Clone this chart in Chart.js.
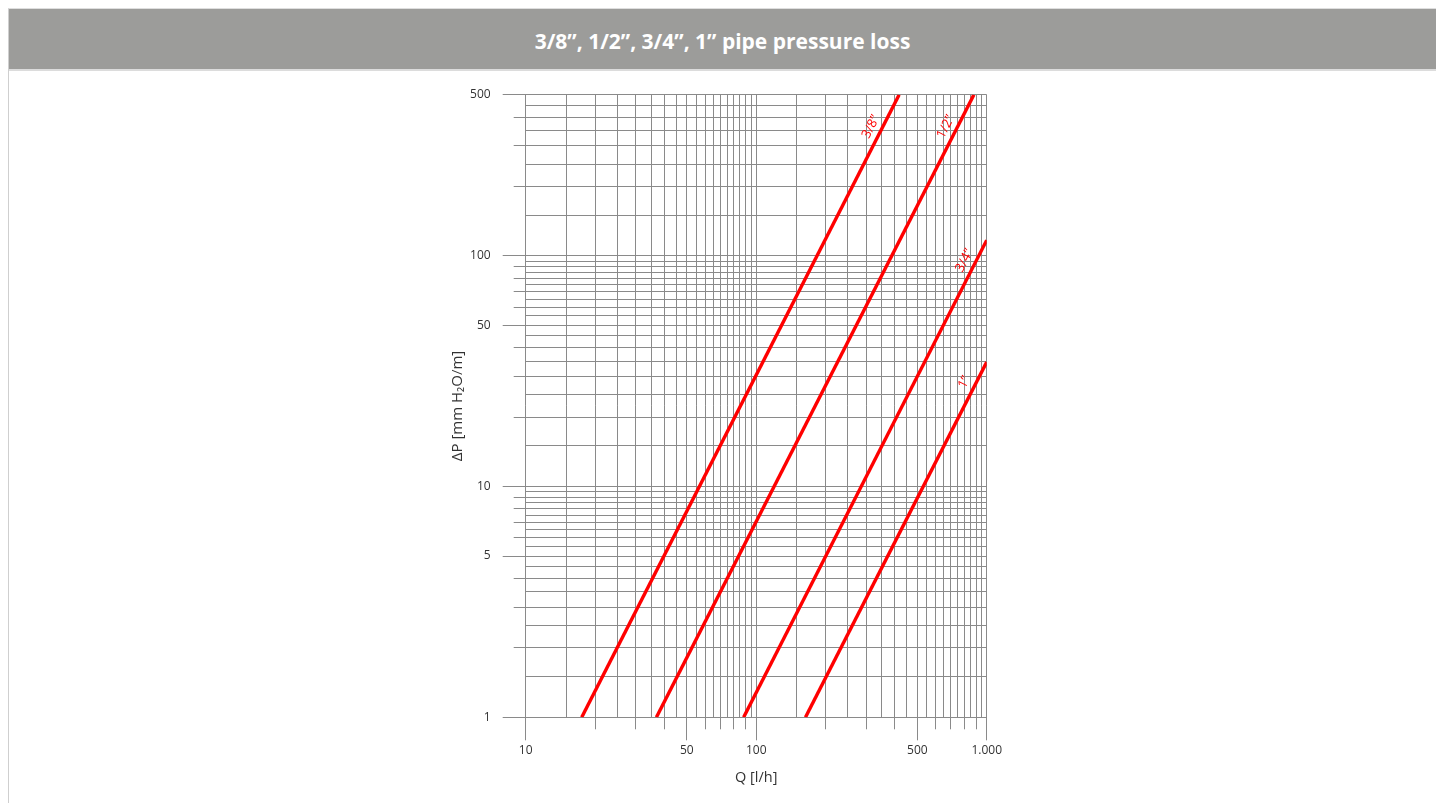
<!DOCTYPE html>
<html><head><meta charset="utf-8">
<script src="https://cdn.jsdelivr.net/npm/chart.js@4.4.0/dist/chart.umd.min.js"></script>
<style>
html,body{margin:0;padding:0;background:#fff;width:1436px;height:803px;overflow:hidden;font-family:'Open Sans',sans-serif;}
#frame{position:absolute;left:8px;top:8px;width:1428px;height:795px;border-left:1px solid #cfcfcf;border-top:1px solid #dedede;box-sizing:border-box;}
#bar{position:absolute;left:0;top:0;right:0;height:60px;background:#9c9c9a;border-bottom:2px solid #dcdcdc;color:#fff;font-weight:700;font-size:21px;text-align:center;line-height:64px;}
#wrap{position:absolute;left:0;top:0;width:1436px;height:803px;}
</style></head>
<body>
<div id="frame"><div id="bar">3/8”, 1/2”, 3/4”, 1” pipe pressure loss</div></div>
<div id="wrap"><canvas id="c" width="1436" height="803"></canvas></div>
<script>
// ---- data (end points of each straight log-log line) ----
const seriesLabels = ['3/8”', '1/2”', '3/4”', '1”'];
const q_3_8 = [17.5, 417];   const dp_3_8 = [1, 500];
const q_1_2 = [36.9, 880];   const dp_1_2 = [1, 500];
const q_3_4 = [88.2, 1000];  const dp_3_4 = [1, 117];
const q_1   = [163.6, 1000]; const dp_1   = [1, 34.7];
const labelDP = [346, 346, 91, 27];   // ΔP where each curve name sits

// ---- axis ticks ----
const xLabelValues = [10, 50, 100, 500, 1000];
const xLabelTexts  = ['10', '50', '100', '500', '1.000'];
const yLabelValues = [1, 5, 10, 50, 100, 500];
const yLabelTexts  = ['1', '5', '10', '50', '100', '500'];
const gridSteps = [1, 1.5, 2, 2.5, 3, 3.5, 4, 4.5, 5, 5.5, 6, 6.5, 7, 7.5, 8, 8.5, 9, 9.5];
const minorTickSteps = [2, 3, 4, 6, 7, 8, 9];

const xGrid = [], yGrid = [], xMinor = [], yMinor = [];
[10, 100].forEach(d => gridSteps.forEach(s => xGrid.push(+(d * s).toFixed(3))));
xGrid.push(1000);
[1, 10, 100].forEach(d => gridSteps.forEach(s => { const v = +(d * s).toFixed(3); if (v <= 500) yGrid.push(v); }));
[10, 100].forEach(d => minorTickSteps.forEach(s => xMinor.push(d * s)));
[1, 10, 100].forEach(d => minorTickSteps.forEach(s => { if (d * s < 500) yMinor.push(d * s); }));

const GRID = '#8a8a8a';
const RED = '#ff0000';
const TXT = '#333333';
const FONT = "'Open Sans', sans-serif";

const seriesQ = [q_3_8, q_1_2, q_3_4, q_1];
const seriesDP = [dp_3_8, dp_1_2, dp_3_4, dp_1];
const datasets = seriesLabels.map((name, i) => ({
  label: name,
  data: seriesQ[i].map((q, k) => ({x: q, y: seriesDP[i][k]})),
  showLine: true,
  borderColor: RED,
  backgroundColor: RED,
  borderWidth: 3.4,
  pointRadius: 0,
  borderCapStyle: 'butt'
}));

const align = v => Math.round(v - 0.5) + 0.5;

const extras = {
  id: 'extras',
  afterDraw(chart) {
    const {ctx, chartArea: a, scales: {x, y}} = chart;
    ctx.save();
    ctx.strokeStyle = GRID;
    ctx.lineWidth = 1;
    ctx.beginPath();
    xMinor.forEach(v => { const px = align(x.getPixelForValue(v)); ctx.moveTo(px, a.bottom); ctx.lineTo(px, a.bottom + 12); });
    yMinor.forEach(v => { const py = align(y.getPixelForValue(v)); ctx.moveTo(a.left - 12, py); ctx.lineTo(a.left, py); });
    ctx.stroke();
    // curve names
    ctx.fillStyle = RED;
    ctx.font = "13px " + FONT;
    ctx.textAlign = 'center';
    ctx.textBaseline = 'middle';
    seriesLabels.forEach((name, i) => {
      const x0 = x.getPixelForValue(seriesQ[i][0]), y0 = y.getPixelForValue(seriesDP[i][0]);
      const x1 = x.getPixelForValue(seriesQ[i][1]), y1 = y.getPixelForValue(seriesDP[i][1]);
      const ang = Math.atan2(y1 - y0, x1 - x0);
      const py = y.getPixelForValue(labelDP[i]);
      const px = x0 + (py - y0) * (x1 - x0) / (y1 - y0);
      ctx.save();
      ctx.translate(px, py);
      ctx.rotate(ang);
      ctx.fillText(name, 0, -10.5);
      ctx.restore();
    });
    ctx.restore();
  }
};

new Chart(document.getElementById('c'), {
  type: 'scatter',
  data: {datasets},
  plugins: [extras],
  options: {
    responsive: false,
    maintainAspectRatio: false,
    devicePixelRatio: 1,
    animation: false,
    layout: {padding: {left: 448.7, right: 449.3, top: 94.7, bottom: 16.7}},
    plugins: {legend: {display: false}, tooltip: {enabled: false}},
    scales: {
      x: {
        type: 'logarithmic',
        min: 10, max: 1000,
        afterBuildTicks: s => { s.ticks = xGrid.map(v => ({value: v})); },
        afterFit: s => { s.height = 69; },
        border: {display: false},
        grid: {
          color: GRID, lineWidth: 1, drawTicks: true, tickLength: 23,
          tickColor: c => (c.tick && xLabelValues.includes(c.tick.value)) ? GRID : 'rgba(0,0,0,0)'
        },
        ticks: {
          autoSkip: false, maxRotation: 0, minRotation: 0, padding: 3,
          color: TXT, font: {family: FONT, size: 12},
          callback: v => { const k = xLabelValues.indexOf(v); return k >= 0 ? xLabelTexts[k] : ''; }
        },
        title: {display: true, text: 'Q [l/h]', color: TXT, font: {family: FONT, size: 14.5}, padding: 0}
      },
      y: {
        type: 'logarithmic',
        min: 1, max: 500,
        afterBuildTicks: s => { s.ticks = yGrid.map(v => ({value: v})); },
        afterFit: s => { s.width = 77; },
        border: {display: false},
        grid: {
          color: GRID, lineWidth: 1, drawTicks: true, tickLength: 23,
          tickColor: c => (c.tick && yLabelValues.includes(c.tick.value)) ? GRID : 'rgba(0,0,0,0)'
        },
        ticks: {
          autoSkip: false, padding: 12,
          color: TXT, font: {family: FONT, size: 12},
          callback: v => { const k = yLabelValues.indexOf(v); return k >= 0 ? yLabelTexts[k] : ''; }
        },
        title: {display: true, text: 'ΔP [mm H₂O/m]', color: TXT, font: {family: FONT, size: 15}, padding: 0}
      }
    }
  }
});
</script>
</body></html>
